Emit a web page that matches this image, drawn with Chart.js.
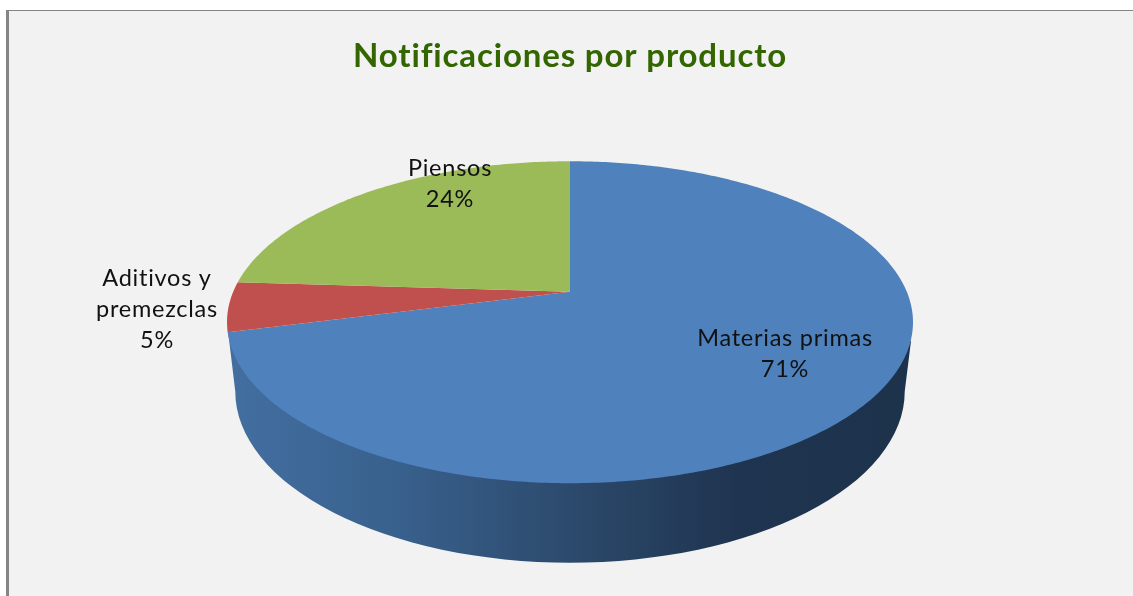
<!DOCTYPE html>
<html>
<head>
<meta charset="utf-8">
<style>
  html, body { margin: 0; background: #fff; overflow: hidden; }
  #marco { position: absolute; left: 6px; top: 10px; width: 1127px; height: 586px; box-sizing: border-box;
           border-left: 3px solid #858585; border-top: 1px solid #858585; background: #f2f2f2; }
  canvas { position: absolute; left: 0; top: 0; }
</style>
<script src="https://cdn.jsdelivr.net/npm/chart.js@4"></script>
</head>
<body>
<div id="marco"></div>
<canvas id="grafico" width="1133" height="596"></canvas>
<script>
// Datos del gráfico
const categorias = ['Materias primas', ['Aditivos y', 'premezclas'], 'Piensos'];
const valores = [71, 5, 24];
const colores = ['#4f81bd', '#c0504d', '#9bbb59'];

// Perspectiva de la tarta 3D (relativa al radio que da Chart.js)
const escalaX = 1.61, escalaY = 0.742, fuga = 0.189;
// Centro de cada etiqueta y altura de línea
const posEtiquetas = [[785, 338], [157, 278], [450, 168]];
const altoLinea = 31.3;

function proyectar(arc, ang) {
  const u = Math.cos(ang), v = Math.sin(ang), w = 1 - fuga * v;
  return [arc.x + arc.outerRadius * escalaX * u / w, arc.y + arc.outerRadius * escalaY * v / w];
}

const tarta3d = {
  id: 'tarta3d',
  beforeDraw(chart) {
    chart.ctx.letterSpacing = '0.85px'; // para el título
  },
  // dibuja el lateral y luego las porciones en perspectiva
  beforeDatasetDraw(chart, args) {
    const c = chart.ctx, arcos = args.meta.data, p0 = arcos[0];
    const R = p0.outerRadius, cx = p0.x, cy = p0.y;
    const grad = c.createLinearGradient(cx - 1.6 * R, 0, cx + 1.6 * R, 0);
    grad.addColorStop(0, '#426ea0');
    grad.addColorStop(0.25, '#38608c');
    grad.addColorStop(0.5, '#2c4a6c');
    grad.addColorStop(0.75, '#1f3450');
    grad.addColorStop(1, '#1d324b');
    const fin = proyectar(p0, p0.endAngle);
    c.save();
    c.fillStyle = grad;
    c.beginPath();
    c.moveTo(cx + 1.63 * R, cy + 0.235 * R);
    c.ellipse(cx, cy + 0.476 * R, 1.6 * R, 0.819 * R, 0, 0, Math.PI);
    c.lineTo(fin[0] + 0.5, fin[1]);
    c.closePath();
    c.fill();
    arcos.forEach(arc => {
      c.fillStyle = arc.options.backgroundColor;
      c.beginPath();
      c.moveTo(arc.x, arc.y);
      const pasos = Math.ceil((arc.endAngle - arc.startAngle) * 80);
      for (let i = 0; i <= pasos; i++) {
        const q = proyectar(arc, arc.startAngle + (arc.endAngle - arc.startAngle) * i / pasos);
        c.lineTo(q[0], q[1]);
      }
      c.closePath();
      c.fill();
    });
    c.restore();
    return false;
  },
  afterDatasetsDraw(chart) {
    const c = chart.ctx;
    c.save();
    c.font = '23.5px Lato';
    c.letterSpacing = '0.75px';
    c.fillStyle = '#111';
    c.textAlign = 'center';
    c.textBaseline = 'middle';
    categorias.forEach((cat, i) => {
      const lineas = [].concat(cat, valores[i] + '%');
      lineas.forEach((t, j) => c.fillText(t, posEtiquetas[i][0], posEtiquetas[i][1] + j * altoLinea));
    });
    c.restore();
  }
};

new Chart(document.getElementById('grafico'), {
  type: 'pie',
  data: {
    labels: categorias,
    datasets: [{ data: valores, backgroundColor: colores, borderWidth: 0 }]
  },
  plugins: [tarta3d],
  options: {
    responsive: false,
    animation: false,
    layout: { padding: { left: 7, bottom: 95 } },
    plugins: {
      legend: { display: false },
      tooltip: { enabled: false },
      title: {
        display: true,
        text: 'Notificaciones por producto',
        color: '#336600',
        font: { family: 'Lato', size: 33, weight: 'bold' },
        padding: { top: 37, bottom: 6 }
      }
    }
  }
});
</script>
</body>
</html>
